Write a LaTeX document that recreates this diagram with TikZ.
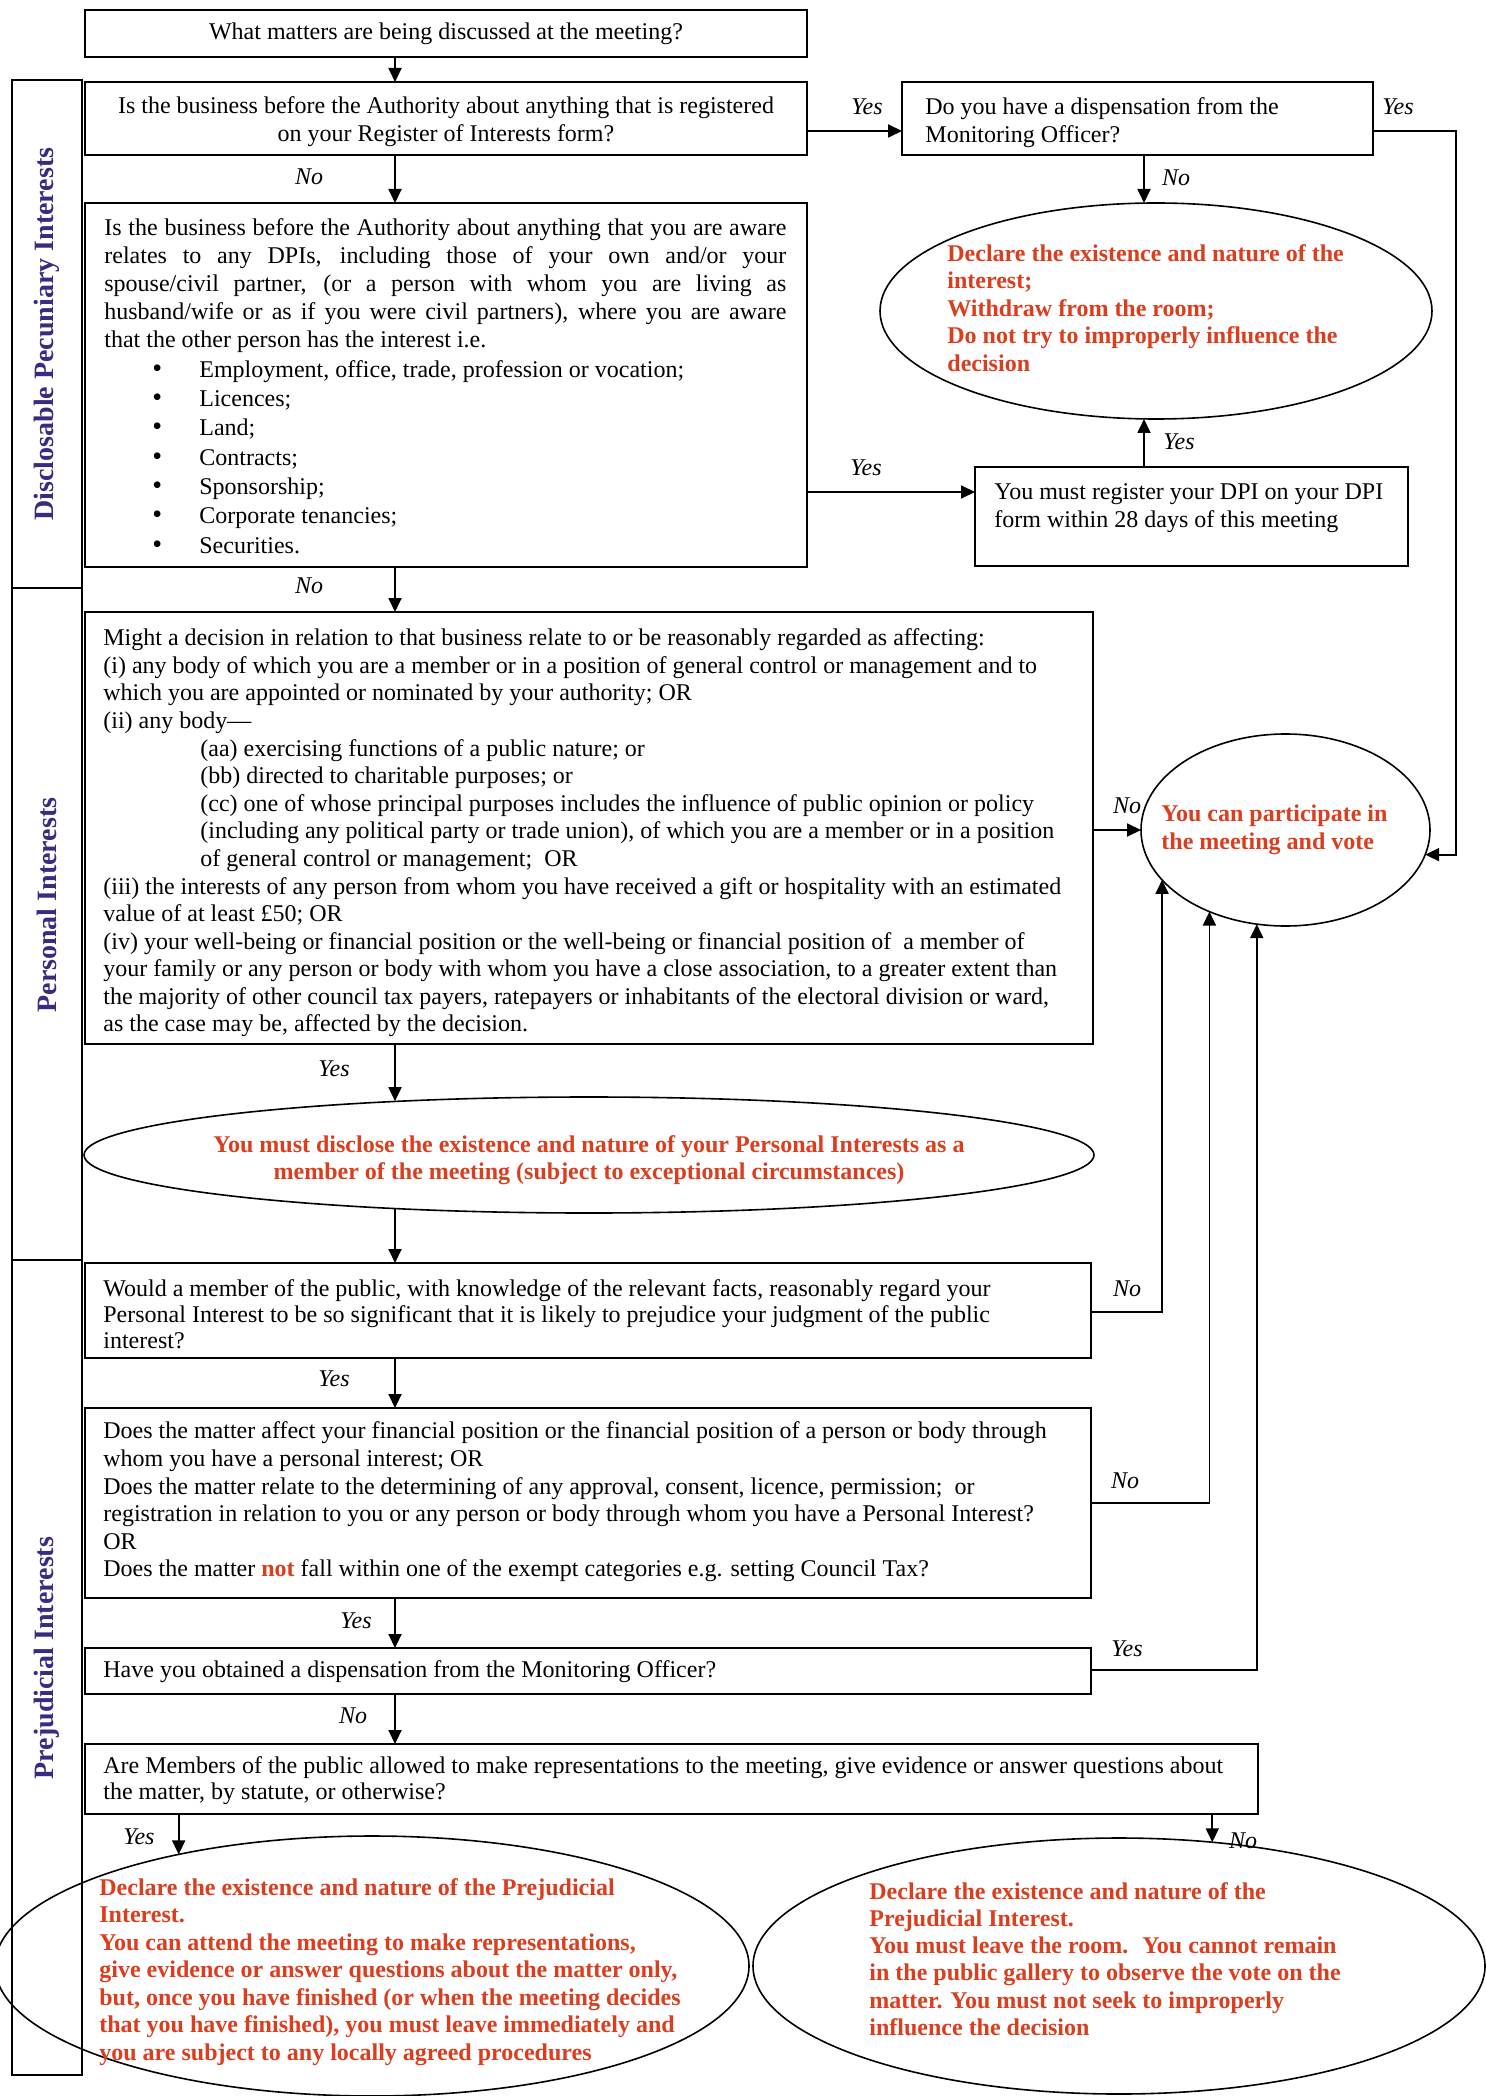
\documentclass[tikz,border=0pt]{standalone}
\usepackage{fontspec}
\setmainfont{Liberation Serif}
\usetikzlibrary{shapes.geometric,arrows.meta,fit}
\definecolor{redtxt}{RGB}{218,62,30}
\definecolor{bandcol}{RGB}{58,42,130}
\begin{document}
\begin{tikzpicture}[x=0.5pt,y=-0.5pt,
  box/.style={draw, rectangle, line width=0.9pt, inner sep=0pt, outer sep=0pt},
  ell/.style={draw, ellipse, line width=0.8pt, inner sep=0pt, outer sep=0pt},
  txt/.style={anchor=west, inner sep=0pt, align=left, font=\fontsize{12}{14}\selectfont},
  ctxt/.style={anchor=center, inner sep=0pt, align=center, font=\fontsize{12}{14}\selectfont},
  redt/.style={anchor=west, inner sep=0pt, align=left, text=redtxt, font=\fontsize{12}{13.8}\selectfont\bfseries},
  yn/.style={inner sep=0pt, font=\fontsize{12}{14}\selectfont\itshape},
  arr/.style={line width=0.9pt, -{Triangle[length=7pt,width=6.5pt]}},
  band/.style={draw, rectangle, line width=0.9pt, inner sep=0pt, outer sep=0pt},
  bandlbl/.style={rotate=90, inner sep=0pt, text=bandcol, font=\fontsize{14}{16}\selectfont\bfseries}
]
\useasboundingbox[fill=white] (0,0) rectangle (1485,2096);
\coordinate (spine) at (395,0);
\coordinate (rspine) at (1144,0);
\newcommand{\bul}{\makebox[23.5pt][l]{\fontsize{14}{14}\selectfont\textbullet}}

% side bands
\node[band, fit={(12,80)(82,588)}] (band1) {};
\node[band, fit={(12,588)(82,1260)}] (band2) {};
\node[band, fit={(12,1260)(82,2075)}] (band3) {};
\node[bandlbl] (lbl1) at (47,334) {Disclosable Pecuniary Interests};
\node[bandlbl] (lbl2) at (47,905) {Personal Interests};
\node[bandlbl] (lbl3) at (47,1658) {Prejudicial Interests};

% boxes
\node[box, fit={(85,10)(807,57)}] (b1) {};
\node[ctxt] (tb1) at (446,34) {What matters are being discussed at the meeting?};
\node[box, fit={(85,82)(807,155)}] (b2) {};
\node[ctxt] (tb2) at (446,122) {Is the business before the Authority about anything that is registered\\on your Register of Interests form?};
\node[box, fit={(902,82)(1373,155)}] (disp) {};
\node[txt] (tdisp) at (925,123) {Do you have a dispensation from the\\Monitoring Officer?};

\node[box, fit={(85,203)(807,567)}] (b3) {};
\node[txt] (tb3a) at (104,286) {\makebox[341pt][s]{Is the business before the Authority about anything that you are aware}\\
\makebox[341pt][s]{relates to any DPIs, including those of your own and/or your}\\
\makebox[341pt][s]{spouse/civil partner, (or a person with whom you are living as}\\
\makebox[341pt][s]{husband/wife or as if you were civil partners), where you are aware}\\
that the other person has the interest i.e.};
\node[txt, font=\fontsize{12}{14.65}\selectfont] (tb3b) at (152,457) {\bul Employment, office, trade, profession or vocation;\\
\bul Licences;\\
\bul Land;\\
\bul Contracts;\\
\bul Sponsorship;\\
\bul Corporate tenancies;\\
\bul Securities.};

\node[box, fit={(975,467)(1408,566)}] (reg) {};
\node[txt] (treg) at (994,508) {You must register your DPI on your DPI\\form within 28 days of this meeting};

\node[box, fit={(85,612)(1093,1044)}] (b4) {};
\node[txt, font=\fontsize{12}{13.79}\selectfont] (tb4) at (103,833) {Might a decision in relation to that business relate to or be reasonably regarded as affecting:\\
(i) any body of which you are a member or in a position of general control or management and to\\
which you are appointed or nominated by your authority; OR\\
(ii) any body—\\
\hspace*{48.5pt}(aa) exercising functions of a public nature; or\\
\hspace*{48.5pt}(bb) directed to charitable purposes; or\\
\hspace*{48.5pt}(cc) one of whose principal purposes includes the influence of public opinion or policy\\
\hspace*{48.5pt}(including any political party or trade union), of which you are a member or in a position\\
\hspace*{48.5pt}of general control or management; \ OR\\
(iii) the interests of any person from whom you have received a gift or hospitality with an estimated\\
value of at least £50; OR\\
(iv) your well-being or financial position or the well-being or financial position of \ a member of\\
your family or any person or body with whom you have a close association, to a greater extent than\\
the majority of other council tax payers, ratepayers or inhabitants of the electoral division or ward,\\
as the case may be, affected by the decision.};

\node[box, fit={(85,1263)(1091,1358)}] (b5) {};
\node[txt, font=\fontsize{12}{13}\selectfont] (tb5) at (103,1314) {Would a member of the public, with knowledge of the relevant facts, reasonably regard your\\
Personal Interest to be so significant that it is likely to prejudice your judgment of the public\\
interest?};

\node[box, fit={(85,1408)(1091,1598)}] (b6) {};
\node[txt, font=\fontsize{12}{13.8}\selectfont] (tb6) at (103,1502) {Does the matter affect your financial position or the financial position of a person or body through\\
whom you have a personal interest; OR\\
Does the matter relate to the determining of any approval, consent, licence, permission; \ or\\
registration in relation to you or any person or body through whom you have a Personal Interest?\\
OR\\
Does the matter \textcolor{redtxt}{\bfseries not} fall within one of the exempt categories e.g. setting Council Tax?};

\node[box, fit={(85,1648)(1091,1694)}] (b7) {};
\node[txt] (tb7) at (103,1672) {Have you obtained a dispensation from the Monitoring Officer?};

\node[box, fit={(85,1744)(1258,1814)}] (b8) {};
\node[txt, font=\fontsize{12}{13}\selectfont] (tb8) at (103,1781) {Are Members of the public allowed to make representations to the meeting, give evidence or answer questions about\\
the matter, by statute, or otherwise?};

% ellipses
\node[ell, minimum width=276pt, minimum height=108pt] (dec1) at (1156,311) {};
\node[redt] (tdec1) at (947,308) {Declare the existence and nature of the\\interest;\\Withdraw from the room;\\Do not try to improperly influence the\\decision};

\node[ell, minimum width=144.5pt, minimum height=96pt] (part) at (1285.5,830) {};
\node[redt] (tpart) at (1161,830) {You can participate in\\the meeting and vote};

\node[ell, minimum width=505pt, minimum height=58pt] (pers) at (589,1155) {};
\node[redt, anchor=center, align=center, font=\fontsize{12}{13.5}\selectfont\bfseries] (tpers) at (589,1160) {You must disclose the existence and nature of your Personal Interests as a\\member of the meeting (subject to exceptional circumstances)};

\node[ell, minimum width=377pt, minimum height=130pt] (lef) at (372,1966) {};
\node[redt, font=\fontsize{12}{13.75}\selectfont\bfseries] (tlef) at (99,1972) {Declare the existence and nature of the Prejudicial\\Interest.\\You can attend the meeting to make representations,\\give evidence or answer questions about the matter only,\\but, once you have finished (or when the meeting decides\\that you have finished), you must leave immediately and\\you are subject to any locally agreed procedures};

\node[ell, minimum width=366pt, minimum height=128pt] (rig) at (1119,1966) {};
\node[redt, font=\fontsize{12}{13.6}\selectfont\bfseries] (trig) at (869,1959) {Declare the existence and nature of the\\Prejudicial Interest.\\You must leave the room. \ You cannot remain\\in the public gallery to observe the vote on the\\matter. You must not seek to improperly\\influence the decision};

% main spine
\draw[arr] (b1.south -| spine) -- (b2.north -| spine);
\draw[arr] (b2.south -| spine) -- (b3.north -| spine);
\draw[arr] (b3.south -| spine) -- (b4.north -| spine);
\draw[arr] (b4.south -| spine) -- (pers.164.57 -| spine);
\draw[arr] (pers.195.43 -| spine) -- (b5.north -| spine);
\draw[arr] (b5.south -| spine) -- (b6.north -| spine);
\draw[arr] (b6.south -| spine) -- (b7.north -| spine);
\draw[arr] (b7.south -| spine) -- (b8.north -| spine);
\draw[arr] (b8.south -| lef.150.64) -- (lef.150.64);
\draw[arr] (b8.south -| rig.53.72) -- (rig.53.72);

% top right
\draw[arr] (b2.east |- 0,131) -- (disp.west |- 0,131);
\draw[arr] (disp.south -| rspine) -- (dec1.north -| rspine);
\coordinate (rt) at (1456,131);
\draw[arr] (disp.east |- rt) -- (rt) |- (part.350.69);
\draw[arr] (b3.east |- 0,492) -- (reg.west |- 0,492);
\draw[arr] (reg.north -| rspine) -- (dec1.south -| rspine);

% to participate
\draw[arr] (b4.east |- part.west) -- (part.west);
\draw[arr] (b5.east |- 0,1312) -| (part.202.56);
\draw[arr] (b6.east |- 0,1503) -| (part.227.33);
\draw[arr] (b7.east |- 0,1670) -| (part.253.73);

% yes / no labels
\node[yn] (y1) at (867,107) {Yes};
\node[yn] (y2) at (1398,107) {Yes};
\node[yn] (n1) at (309,177) {No};
\node[yn] (n2) at (1176,178) {No};
\node[yn] (y3) at (866,468) {Yes};
\node[yn] (y4) at (1179,442) {Yes};
\node[yn] (n3) at (309,586) {No};
\node[yn] (n4) at (1127,806) {No};
\node[yn] (y5) at (334,1069) {Yes};
\node[yn] (n5) at (1127,1289) {No};
\node[yn] (y6) at (334,1379) {Yes};
\node[yn] (n6) at (1125,1481) {No};
\node[yn] (y7) at (356,1621) {Yes};
\node[yn] (y8) at (1127,1649) {Yes};
\node[yn] (n7) at (353,1716) {No};
\node[yn] (y9) at (139,1837) {Yes};
\node[yn] (n8) at (1243,1841) {No};
\end{tikzpicture}
\end{document}
